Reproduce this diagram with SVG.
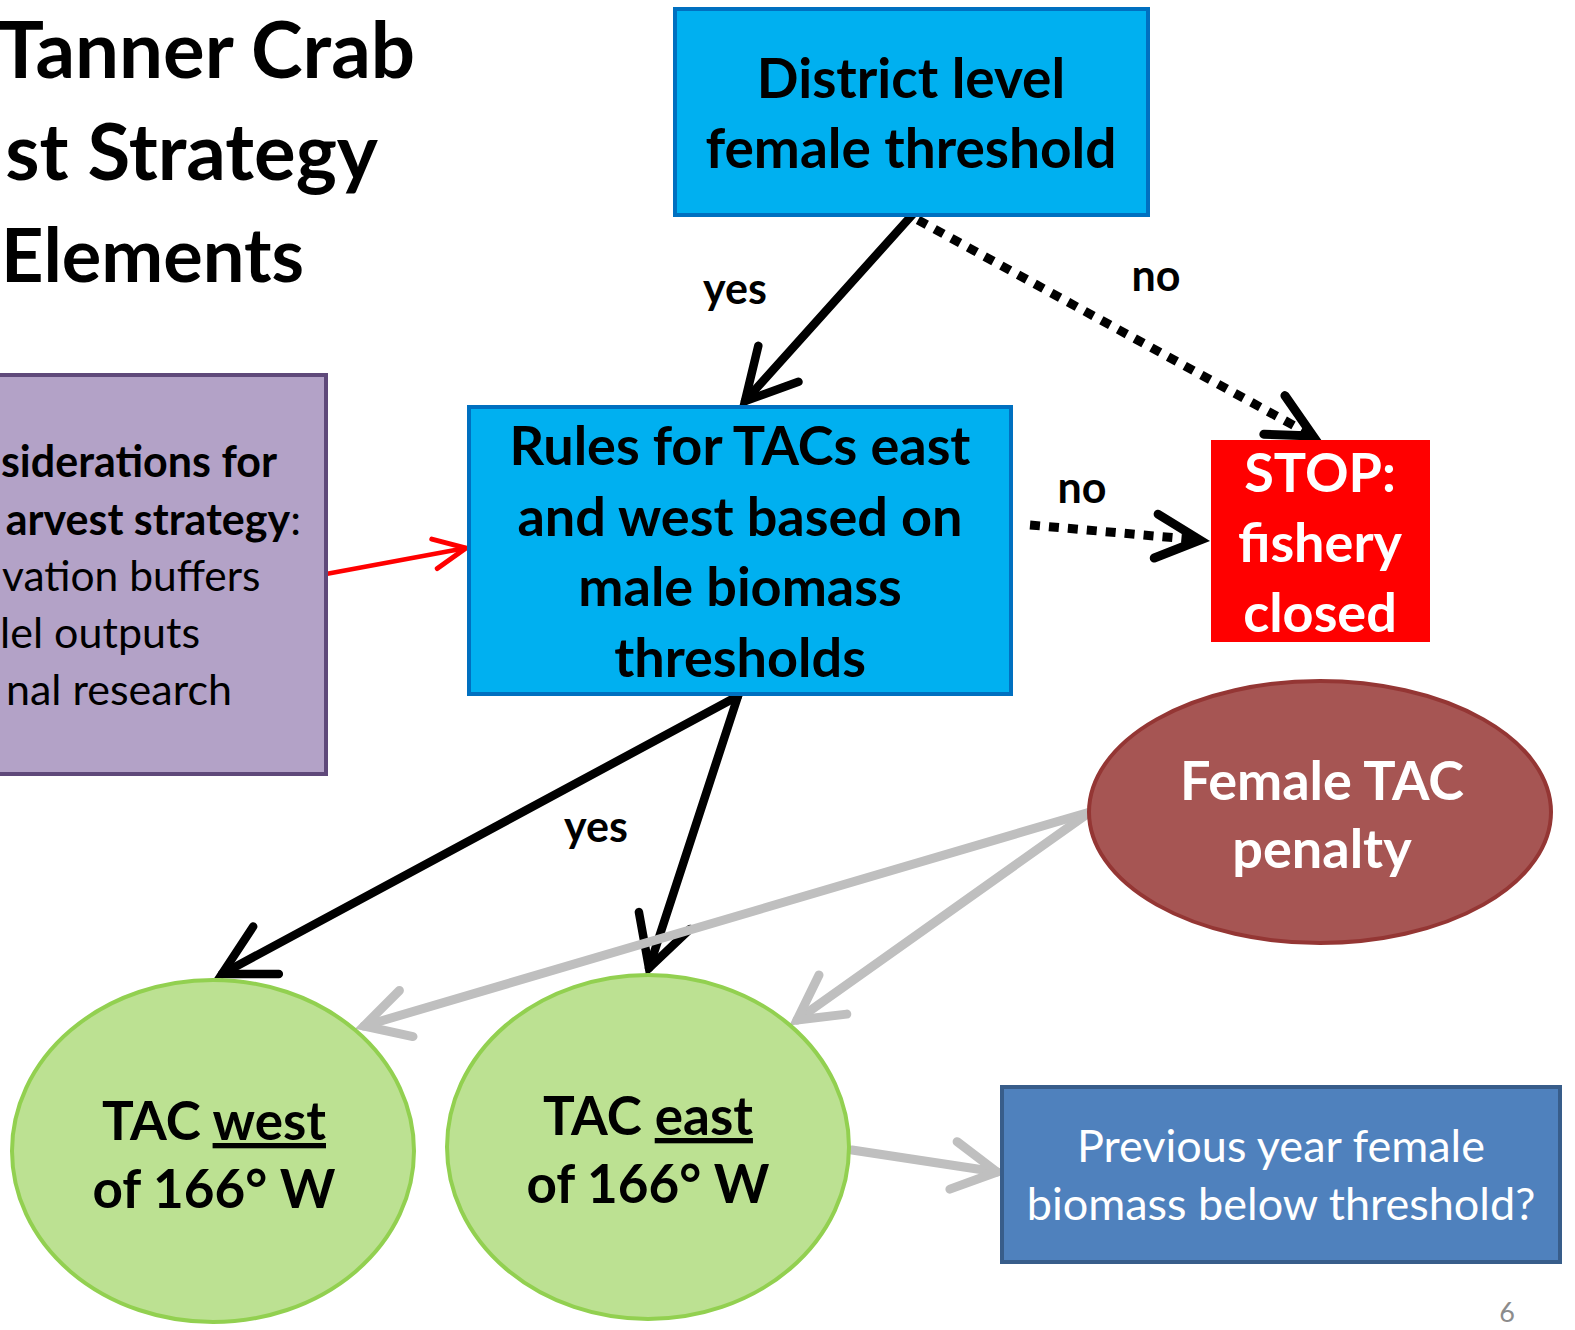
<svg xmlns="http://www.w3.org/2000/svg" width="1575" height="1330" viewBox="0 0 1575 1330">
<style>
text{font-family:Lato,"Liberation Sans",sans-serif}
.b{font-weight:bold}
.c{text-anchor:middle}
.e{text-anchor:end}
.blk{stroke:#000;stroke-width:8.5;fill:none;stroke-linecap:round;stroke-linejoin:round}
.dot{stroke:#000;stroke-width:9;fill:none;stroke-dasharray:10 9}
.gry{stroke:#BFBFBF;stroke-width:9;fill:none;stroke-linecap:round}
.red{stroke:#FF0000;stroke-width:4.5;fill:none}
</style>
<defs>
<marker id="mb" markerUnits="userSpaceOnUse" orient="auto" refX="0" refY="0" overflow="visible">
<path d="M-50,-27 L0,0 L-50,27" fill="none" stroke="#000" stroke-width="8.5" stroke-linecap="round" stroke-linejoin="miter"/>
</marker>
<marker id="md" markerUnits="userSpaceOnUse" orient="auto" refX="0" refY="0" overflow="visible">
<path d="M-44,-22 L0,0 L-44,22" fill="none" stroke="#000" stroke-width="9" stroke-linecap="round" stroke-dasharray="none"/>
</marker>
<marker id="mg" markerUnits="userSpaceOnUse" orient="auto" refX="0" refY="0" overflow="visible">
<path d="M-44,-24 L0,0 L-44,24" fill="none" stroke="#BFBFBF" stroke-width="9" stroke-linecap="round"/>
</marker>
<marker id="mr" markerUnits="userSpaceOnUse" orient="auto" refX="0" refY="0" overflow="visible">
<path d="M-32,-15 L0,0 L-32,15" fill="none" stroke="#FF0000" stroke-width="5" stroke-linecap="round"/>
</marker>
</defs>
<rect width="1575" height="1330" fill="#fff"/>
<g id="title">
<text class="b e" x="415" y="78" font-size="78">Tanner Crab</text>
<text class="b e" x="378" y="180" font-size="78">st Strategy</text>
<text class="b" x="1" y="282" font-size="74">Elements</text>
</g>
<g id="connectors">
<line class="blk" x1="913" y1="214" x2="745" y2="401" marker-end="url(#mb)"/>
<line class="dot" x1="918" y1="220" x2="1313" y2="436" marker-end="url(#md)"/>
<line class="dot" x1="1030" y1="525" x2="1200" y2="540" marker-end="url(#md)"/>
<line class="red" x1="326" y1="574" x2="466" y2="548" marker-end="url(#mr)"/>
<line class="blk" x1="738" y1="696" x2="222" y2="974" marker-end="url(#mb)"/>
<line class="blk" x1="738" y1="696" x2="649" y2="968" marker-end="url(#mb)"/>
<line class="gry" x1="1090" y1="812" x2="364" y2="1026" marker-end="url(#mg)"/>
<line class="gry" x1="1090" y1="812" x2="797" y2="1020" marker-end="url(#mg)"/>
<line class="gry" x1="852" y1="1150" x2="997" y2="1172" marker-end="url(#mg)"/>
<text class="b c" x="735" y="304" font-size="43">yes</text>
<text class="b c" x="1156" y="291" font-size="43">no</text>
<text class="b c" x="1082" y="503" font-size="43">no</text>
<text class="b c" x="596" y="842" font-size="43">yes</text>
</g>
<g id="district">
<rect x="675" y="9" width="473" height="206" fill="#00B0F0" stroke="#0070C0" stroke-width="4"/>
<text class="b c" x="911" y="98" font-size="55">District level</text>
<text class="b c" x="911" y="168" font-size="55">female threshold</text>
</g>
<g id="rules">
<rect x="469" y="407" width="542" height="287" fill="#00B0F0" stroke="#0070C0" stroke-width="4"/>
<text class="b c" x="740" y="465" font-size="54">Rules for TACs east</text>
<text class="b c" x="740" y="536" font-size="54">and west based on</text>
<text class="b c" x="740" y="606" font-size="54">male biomass</text>
<text class="b c" x="740" y="677" font-size="54">thresholds</text>
</g>
<g id="stop">
<rect x="1211" y="440" width="219" height="202" fill="#FF0000"/>
<text class="b c" x="1320" y="492" font-size="54" fill="#fff">STOP:</text>
<text class="b c" x="1320" y="562" font-size="54" fill="#fff">fishery</text>
<text class="b c" x="1320" y="632" font-size="54" fill="#fff">closed</text>
</g>
<g id="considerations">
<rect x="-10" y="375" width="336" height="399" fill="#B3A2C7" stroke="#5F497A" stroke-width="4"/>
<text class="b e" x="277" y="477" font-size="43">siderations for</text>
<text class="e" x="301" y="535" font-size="43"><tspan class="b">arvest strategy</tspan>:</text>
<text x="2" y="591" font-size="42.5">vation buffers</text>
<text class="e" x="200" y="648" font-size="43">lel outputs</text>
<text class="e" x="232" y="705" font-size="43">nal research</text>
</g>
<g id="female">
<ellipse cx="1320" cy="812" rx="231" ry="131" fill="#A65553" stroke="#943634" stroke-width="4"/>
<text class="b c" x="1322" y="800" font-size="54" fill="#fff">Female TAC</text>
<text class="b c" x="1322" y="868" font-size="54" fill="#fff">penalty</text>
</g>
<g id="west">
<ellipse cx="213" cy="1151" rx="201" ry="171" fill="#BCE192" stroke="#92D050" stroke-width="4"/>
<text class="b c" x="214" y="1140" font-size="53">TAC <tspan text-decoration="underline">west</tspan></text>
<text class="b c" x="214" y="1208" font-size="53">of 166° W</text>
</g>
<g id="east">
<ellipse cx="648" cy="1147" rx="201" ry="172" fill="#BCE192" stroke="#92D050" stroke-width="4"/>
<text class="b c" x="648" y="1135" font-size="53">TAC <tspan text-decoration="underline">east</tspan></text>
<text class="b c" x="648" y="1203" font-size="53">of 166° W</text>
</g>
<g id="previous">
<rect x="1002" y="1087" width="558" height="175" fill="#4F81BD" stroke="#385D8A" stroke-width="4"/>
<text class="c" x="1281" y="1162" font-size="45" fill="#fff">Previous year female</text>
<text class="c" x="1281" y="1220" font-size="45" fill="#fff">biomass below threshold?</text>
</g>
<text x="1507" y="1322" class="c" font-size="27" fill="#8C8C8C">6</text>
</svg>
